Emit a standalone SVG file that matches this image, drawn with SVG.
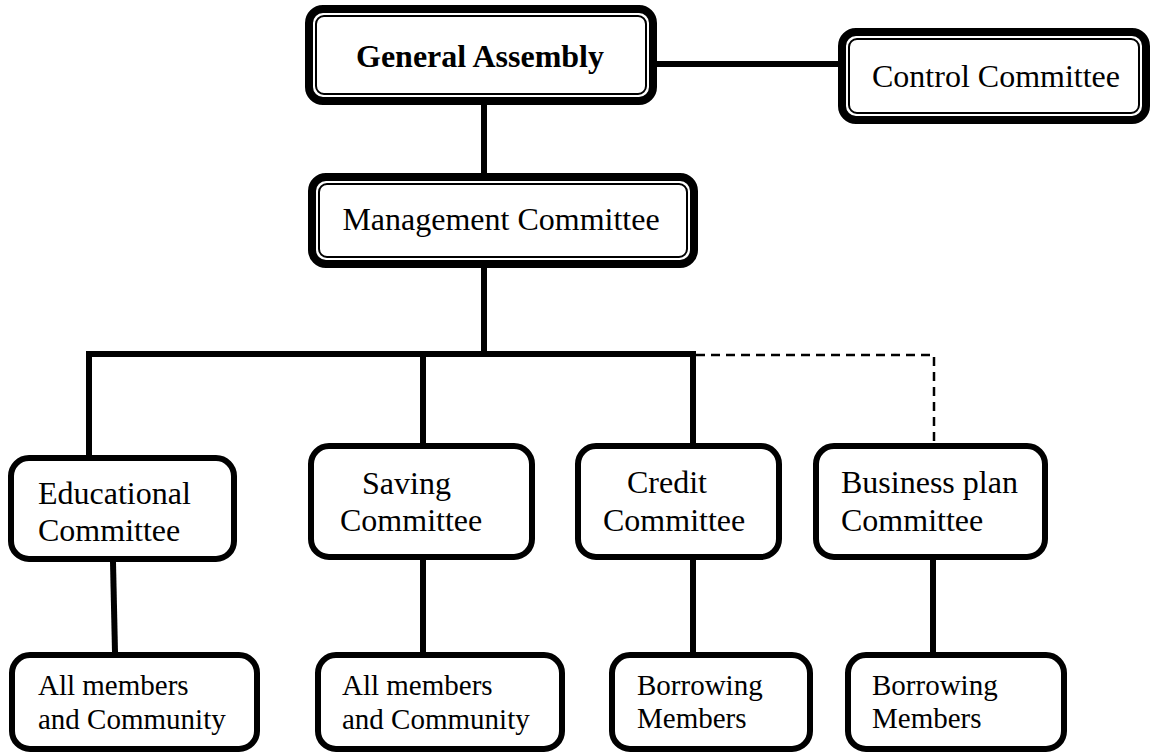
<svg xmlns="http://www.w3.org/2000/svg" width="1152" height="753" viewBox="0 0 1152 753">
<style>
.t{font-family:"Liberation Serif","Times New Roman",serif;fill:#000}
.big{font-size:32px}
.sm{font-size:29px}
.bold{font-weight:bold}
.outer{fill:#fff;stroke:#000;stroke-width:8}
.inner{fill:none;stroke:#000;stroke-width:2}
.box{fill:#fff;stroke:#000;stroke-width:6}
.ln{stroke:#000;stroke-width:6;fill:none;stroke-linecap:square}
.dash{stroke:#000;stroke-width:2.5;fill:none;stroke-dasharray:9 6}
</style>
<rect width="1152" height="753" fill="#fff"/>
<g id="connectors">
<line class="ln" x1="657" y1="64" x2="838" y2="64"/>
<line class="ln" x1="484" y1="105" x2="484" y2="173"/>
<line class="ln" x1="484" y1="268" x2="484" y2="354"/>
<polyline class="ln" points="89,455 89,354 693,354" stroke-linejoin="miter"/>
<line class="ln" x1="423" y1="354" x2="423" y2="443"/>
<line class="ln" x1="693" y1="354" x2="693" y2="443"/>
<polyline class="dash" points="696,355 934,355 934,443"/>
<line class="ln" x1="113" y1="562" x2="115" y2="652"/>
<line class="ln" x1="423" y1="560" x2="423" y2="652"/>
<line class="ln" x1="693" y1="560" x2="693" y2="652"/>
<line class="ln" x1="933" y1="560" x2="933" y2="652"/>
</g>
<g id="general-assembly">
<rect class="outer" x="309" y="9" width="344" height="92" rx="14"/>
<rect class="inner" x="316" y="16" width="330" height="78" rx="8"/>
<text class="t big bold" x="480" y="67" text-anchor="middle">General Assembly</text>
</g>
<g id="control-committee">
<rect class="outer" x="842" y="32" width="304" height="88" rx="14"/>
<rect class="inner" x="849" y="39" width="290" height="74" rx="8"/>
<text class="t big" x="996" y="87" text-anchor="middle">Control Committee</text>
</g>
<g id="management-committee">
<rect class="outer" x="312" y="177" width="382" height="87" rx="14"/>
<rect class="inner" x="319" y="184" width="368" height="73" rx="8"/>
<text class="t big" x="501" y="230" text-anchor="middle">Management Committee</text>
</g>
<g id="educational-committee">
<rect class="box" x="11" y="458" width="223" height="101" rx="18"/>
<text class="t big" x="38" y="504">Educational</text>
<text class="t big" x="38" y="541">Committee</text>
</g>
<g id="saving-committee">
<rect class="box" x="311" y="446" width="221" height="111" rx="18"/>
<text class="t big" x="362" y="494">Saving</text>
<text class="t big" x="340" y="531">Committee</text>
</g>
<g id="credit-committee">
<rect class="box" x="578" y="446" width="201" height="111" rx="18"/>
<text class="t big" x="627" y="493">Credit</text>
<text class="t big" x="603" y="531">Committee</text>
</g>
<g id="business-plan-committee">
<rect class="box" x="816" y="446" width="229" height="111" rx="18"/>
<text class="t big" x="841" y="493">Business plan</text>
<text class="t big" x="841" y="531">Committee</text>
</g>
<g id="all-members-1">
<rect class="box" x="12" y="655" width="245" height="94" rx="18"/>
<text class="t sm" x="38" y="695">All members</text>
<text class="t sm" x="38" y="729">and Community</text>
</g>
<g id="all-members-2">
<rect class="box" x="318" y="655" width="244" height="94" rx="18"/>
<text class="t sm" x="342" y="695">All members</text>
<text class="t sm" x="342" y="729">and Community</text>
</g>
<g id="borrowing-1">
<rect class="box" x="612" y="655" width="198" height="94" rx="18"/>
<text class="t sm" x="637" y="695">Borrowing</text>
<text class="t sm" x="637" y="728">Members</text>
</g>
<g id="borrowing-2">
<rect class="box" x="848" y="655" width="216" height="94" rx="18"/>
<text class="t sm" x="872" y="695">Borrowing</text>
<text class="t sm" x="872" y="728">Members</text>
</g>
</svg>
